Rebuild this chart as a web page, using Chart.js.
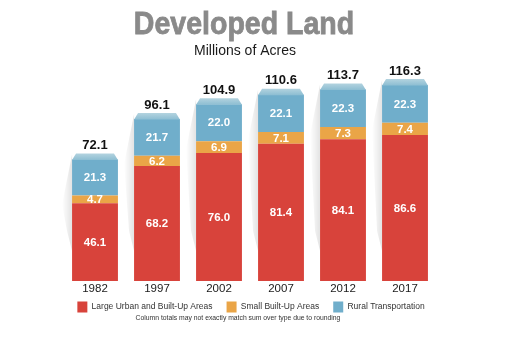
<!DOCTYPE html>
<html>
<head>
<meta charset="utf-8">
<script src="https://cdn.jsdelivr.net/npm/chart.js@4.4.0/dist/chart.umd.min.js"></script>
<style>
  html, body { margin: 0; padding: 0; background: #fff; }
  canvas { display: block; }
</style>
</head>
<body>
<canvas id="chart" width="512" height="344"></canvas>
<script>
/* ── Data ───────────────────────────────────────────────────── */
const YEARS           = ['1982', '1997', '2002', '2007', '2012', '2017'];
const LARGE_URBAN     = [46.1, 68.2, 76.0, 81.4, 84.1, 86.6];
const SMALL_BUILT_UP  = [4.7, 6.2, 6.9, 7.1, 7.3, 7.4];
const RURAL_TRANSPORT = [21.3, 21.7, 22.0, 22.1, 22.3, 22.3];
const TOTALS          = [72.1, 96.1, 104.9, 110.6, 113.7, 116.3];

const TITLE    = 'Developed Land';
const SUBTITLE = 'Millions of Acres';
const FOOTNOTE = 'Column totals may not exactly match sum over type due to rounding';

const COLORS = {
  red:    '#d8433b',
  orange: '#eaa547',
  blue:   '#70aecb',
};

const FONT = "'Liberation Sans', Arial, sans-serif";

/* ── Decorations: titles, shadow, bevel, labels ─────────────── */
const barDecor = {
  id: 'barDecor',
  beforeDatasetsDraw(chart) {
    const ctx = chart.ctx;
    const base = chart.scales.y.getPixelForValue(0);
    chart.getDatasetMeta(2).data.forEach(bar => {
      const { x, y, width } = bar.getProps(['x', 'y', 'width'], true);
      const l = x - width / 2;
      const g = ctx.createLinearGradient(l - 10, 0, l, 0);
      g.addColorStop(0, 'rgba(0,0,0,0)');
      g.addColorStop(1, 'rgba(0,0,0,0.11)');
      ctx.save();
      ctx.fillStyle = g;
      ctx.beginPath();
      ctx.moveTo(l, y - 5);
      ctx.lineTo(l - 10, y + 45);
      ctx.lineTo(l - 5, base - 50);
      ctx.lineTo(l, base - 30);
      ctx.closePath();
      ctx.fill();
      ctx.restore();
    });
  },
  afterDatasetsDraw(chart) {
    const ctx = chart.ctx;
    ctx.save();

    // bevelled tops above the blue segment
    chart.getDatasetMeta(2).data.forEach(bar => {
      const { x, y, width } = bar.getProps(['x', 'y', 'width'], true);
      const l = x - width / 2, r = x + width / 2;
      const g = ctx.createLinearGradient(0, y - 6, 0, y);
      g.addColorStop(0, '#b3d3df');
      g.addColorStop(1, '#8fbfd3');
      ctx.fillStyle = g;
      ctx.beginPath();
      ctx.moveTo(l, y + 0.5); ctx.lineTo(l + 4, y - 6); ctx.lineTo(r - 4, y - 6); ctx.lineTo(r, y + 0.5);
      ctx.closePath();
      ctx.fill();
    });

    // segment values
    ctx.fillStyle = '#fff';
    ctx.font = `bold 11.5px ${FONT}`;
    ctx.textAlign = 'center';
    ctx.textBaseline = 'middle';
    chart.data.datasets.forEach((ds, d) => {
      chart.getDatasetMeta(d).data.forEach((bar, i) => {
        const { x, y, base } = bar.getProps(['x', 'y', 'base'], true);
        ctx.fillText(ds.data[i].toFixed(1), x, (y + base) / 2 + 0.5);
      });
    });

    // column totals
    ctx.fillStyle = '#111';
    ctx.font = `bold 13px ${FONT}`;
    chart.getDatasetMeta(2).data.forEach((bar, i) => {
      const { x, y } = bar.getProps(['x', 'y'], true);
      ctx.fillText(TOTALS[i].toFixed(1), x, y - 14);
    });

    ctx.restore();
  },
  afterDraw(chart) {
    const ctx = chart.ctx;
    ctx.save();
    ctx.textAlign = 'center';

    // big title, slightly condensed
    ctx.textBaseline = 'alphabetic';
    ctx.translate(244, 33.5);
    ctx.scale(0.92, 1);
    ctx.font = `bold 31px ${FONT}`;
    ctx.fillStyle = '#8a8a8a';
    ctx.strokeStyle = '#8a8a8a';
    ctx.lineWidth = 0.8;
    ctx.fillText(TITLE, 0, 0);
    ctx.strokeText(TITLE, 0, 0);
    ctx.setTransform(1, 0, 0, 1, 0, 0);

    ctx.fillStyle = '#1a1a1a';
    ctx.font = `14px ${FONT}`;
    ctx.textBaseline = 'middle';
    ctx.fillText(SUBTITLE, 245, 51);

    ctx.fillStyle = '#333';
    ctx.font = `6.8px ${FONT}`;
    ctx.fillText(FOOTNOTE, 238, 318.5);
    ctx.restore();
  },
};

/* ── Chart ──────────────────────────────────────────────────── */
const hiddenAxis = width => ({
  display: true,
  ticks: { display: false },
  grid: { display: false },
  border: { display: false },
  afterFit: s => { s.width = width; },
});

new Chart(document.getElementById('chart').getContext('2d'), {
  type: 'bar',
  data: {
    labels: YEARS,
    datasets: [
      { label: 'Large Urban and Built-Up Areas', data: LARGE_URBAN,     backgroundColor: COLORS.red },
      { label: 'Small Built-Up Areas',           data: SMALL_BUILT_UP,  backgroundColor: COLORS.orange },
      { label: 'Rural Transportation',           data: RURAL_TRANSPORT, backgroundColor: COLORS.blue },
    ].map(ds => ({ ...ds, borderWidth: 0, barPercentage: 0.74, categoryPercentage: 1.0 })),
  },
  options: {
    responsive: false,
    animation: false,
    layout: { padding: { left: 0, right: 10, top: 62, bottom: 21.5 } },
    plugins: {
      title: { display: false },
      legend: {
        position: 'bottom',
        labels: {
          color: '#333',
          font: { family: FONT, size: 8.5 },
          boxWidth: 10,
          boxHeight: 11,
          padding: 14,
        },
      },
      tooltip: { enabled: false },
    },
    scales: {
      x: {
        stacked: true,
        grid: { display: false },
        border: { display: false },
        // mirrored so the labels are not clipped to the thin axis box
        ticks: { color: '#1a1a1a', font: { family: FONT, size: 11.5 }, mirror: true, padding: -15 },
        afterFit: s => { s.height = 6.5; },
      },
      y: { ...hiddenAxis(64), stacked: true, min: 0, max: 130 },
      yRight: { ...hiddenAxis(66), position: 'right' },
    },
  },
  plugins: [barDecor],
});
</script>
</body>
</html>
